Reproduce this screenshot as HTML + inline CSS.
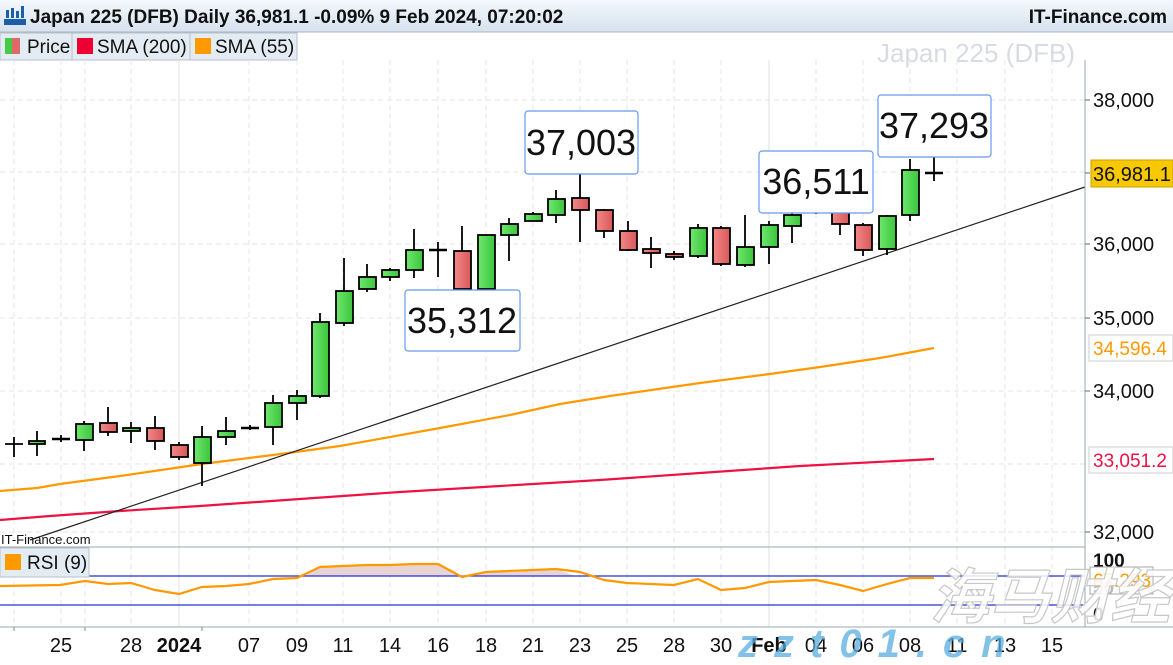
<!DOCTYPE html>
<html><head><meta charset="utf-8"><style>
body{margin:0;width:1173px;height:660px;overflow:hidden;background:#fff;font-family:"Liberation Sans",sans-serif}
</style></head><body>
<svg width="1173" height="660" xmlns="http://www.w3.org/2000/svg" font-family="Liberation Sans, sans-serif">
<defs>
<linearGradient id="hd" x1="0" y1="0" x2="0" y2="1"><stop offset="0" stop-color="#f4f8fc"/><stop offset="1" stop-color="#d6e2ee"/></linearGradient>
<linearGradient id="g" x1="0" x2="1"><stop offset="0" stop-color="#6ee86e"/><stop offset="1" stop-color="#3cc43c"/></linearGradient>
<linearGradient id="r" x1="0" x2="1"><stop offset="0" stop-color="#f48888"/><stop offset="1" stop-color="#d85858"/></linearGradient>
</defs>
<rect x="0" y="0" width="1173" height="32" fill="url(#hd)"/>
<line x1="0" y1="32" x2="1173" y2="32" stroke="#a8b4c0"/>
<g fill="#1a5fa8"><rect x="6" y="10" width="3" height="8"/><rect x="11" y="8" width="3" height="10"/><rect x="16" y="11" width="3" height="7"/><rect x="21" y="6" width="3" height="12"/></g>
<rect x="4" y="19" width="22" height="6" fill="#1a5fa8"/>
<text x="30" y="23" font-size="19" font-weight="bold" fill="#111">Japan 225 (DFB) Daily 36,981.1 -0.09% 9 Feb 2024, 07:20:02</text>
<text x="1167" y="23" font-size="19" font-weight="bold" fill="#111" text-anchor="end">IT-Finance.com</text>
<!-- legend -->
<rect x="0" y="33" width="297" height="27" fill="#e4ecf3" stroke="#b8c2cc"/>
<line x1="72" y1="33" x2="72" y2="60" stroke="#b8c2cc"/><line x1="190" y1="33" x2="190" y2="60" stroke="#b8c2cc"/>
<rect x="5" y="38" width="7" height="16" fill="#44cc44"/><rect x="12" y="38" width="8" height="16" fill="#e06868"/>
<text x="27" y="53" font-size="19" fill="#111">Price</text>
<rect x="77" y="38" width="16" height="16" fill="#ee0033"/><text x="97" y="53" font-size="19" fill="#111">SMA (200)</text>
<rect x="195" y="38" width="16" height="16" fill="#ff9900"/><text x="215" y="53" font-size="19" fill="#111">SMA (55)</text>
<text x="1075" y="62" font-size="26" fill="#d8dce2" text-anchor="end">Japan 225 (DFB)</text>
<!-- grid -->
<g stroke="#e6e6e6" stroke-dasharray="5,4">
<line x1="0" y1="100" x2="1085" y2="100"/><line x1="0" y1="172" x2="1085" y2="172"/><line x1="0" y1="244" x2="1085" y2="244"/><line x1="0" y1="318" x2="1085" y2="318"/><line x1="0" y1="391" x2="1085" y2="391"/><line x1="0" y1="464" x2="1085" y2="464"/><line x1="0" y1="532" x2="1085" y2="532"/>
<line x1="14" y1="60" x2="14" y2="627"/><line x1="61" y1="60" x2="61" y2="627"/><line x1="85" y1="60" x2="85" y2="627"/><line x1="131" y1="60" x2="131" y2="627"/><line x1="249" y1="60" x2="249" y2="627"/><line x1="297" y1="60" x2="297" y2="627"/><line x1="343" y1="60" x2="343" y2="627"/><line x1="390" y1="60" x2="390" y2="627"/><line x1="438" y1="60" x2="438" y2="627"/><line x1="486" y1="60" x2="486" y2="627"/><line x1="533" y1="60" x2="533" y2="627"/><line x1="580" y1="60" x2="580" y2="627"/><line x1="627" y1="60" x2="627" y2="627"/><line x1="674" y1="60" x2="674" y2="627"/><line x1="721" y1="60" x2="721" y2="627"/><line x1="816" y1="60" x2="816" y2="627"/><line x1="863" y1="60" x2="863" y2="627"/><line x1="910" y1="60" x2="910" y2="627"/><line x1="957" y1="60" x2="957" y2="627"/><line x1="1005" y1="60" x2="1005" y2="627"/><line x1="1052" y1="60" x2="1052" y2="627"/>
</g>
<g stroke="#e0e0e0"><line x1="179" y1="60" x2="179" y2="627"/><line x1="769" y1="60" x2="769" y2="627"/></g>
<!-- SMAs & trendline -->
<polyline fill="none" stroke="#ee1144" stroke-width="2.2" points="0,520 50,516 120,511 200,506 300,499 400,492 500,486 600,480 700,473 800,466 934,459"/>
<polyline fill="none" stroke="#ff9900" stroke-width="2.2" points="0,491 37,488 60,484 120,476 202,464 273,455 340,446 440,428 510,415 560,404 610,396 700,383 770,374 820,367 880,358 934,348"/>
<line x1="30" y1="540" x2="1085" y2="187" stroke="#222" stroke-width="1.2"/>
<!-- candles -->
<g stroke="#000" stroke-width="1.8">
<line x1="14" y1="437" x2="14" y2="457"/><line x1="5" y1="444" x2="23" y2="444"/>
<line x1="37" y1="431" x2="37" y2="456"/><rect x="29" y="441" width="16" height="3" fill="url(#g)"/>
<line x1="61" y1="435" x2="61" y2="442"/><line x1="52" y1="439" x2="70" y2="439" stroke-width="2.5"/>
<line x1="84" y1="421" x2="84" y2="451"/><rect x="76" y="424" width="17" height="16" fill="url(#g)"/>
<line x1="108" y1="407" x2="108" y2="436"/><rect x="100" y="423" width="17" height="9" fill="url(#r)"/>
<line x1="131" y1="422" x2="131" y2="443"/><rect x="123" y="428" width="17" height="3" fill="url(#g)"/>
<line x1="155" y1="416" x2="155" y2="450"/><rect x="147" y="428" width="17" height="13" fill="url(#r)"/>
<line x1="179" y1="442" x2="179" y2="460"/><rect x="171" y="445" width="17" height="12" fill="url(#r)"/>
<line x1="202" y1="426" x2="202" y2="486"/><rect x="194" y="437" width="17" height="26" fill="url(#g)"/>
<line x1="226" y1="417" x2="226" y2="445"/><rect x="218" y="431" width="17" height="6" fill="url(#g)"/>
<line x1="250" y1="425" x2="250" y2="430"/><line x1="241" y1="428" x2="259" y2="428" stroke-width="2.5"/>
<line x1="273" y1="395" x2="273" y2="445"/><rect x="265" y="403" width="17" height="24" fill="url(#g)"/>
<line x1="297" y1="390" x2="297" y2="420"/><rect x="289" y="396" width="17" height="7" fill="url(#g)"/>
<line x1="320" y1="313" x2="320" y2="398"/><rect x="312" y="322" width="17" height="74" fill="url(#g)"/>
<line x1="344" y1="258" x2="344" y2="326"/><rect x="336" y="291" width="17" height="32" fill="url(#g)"/>
<line x1="367" y1="264" x2="367" y2="292"/><rect x="359" y="277" width="17" height="12" fill="url(#g)"/>
<line x1="390" y1="268" x2="390" y2="281"/><rect x="382" y="270" width="17" height="7" fill="url(#g)"/>
<line x1="414" y1="229" x2="414" y2="278"/><rect x="406" y="250" width="17" height="20" fill="url(#g)"/>
<line x1="438" y1="242" x2="438" y2="277"/><line x1="429" y1="250" x2="447" y2="250" stroke-width="2.5"/>
<line x1="462" y1="226" x2="462" y2="296"/><rect x="454" y="251" width="17" height="38" fill="url(#r)"/>
<line x1="486" y1="235" x2="486" y2="292"/><rect x="478" y="235" width="17" height="54" fill="url(#g)"/>
<line x1="509" y1="218" x2="509" y2="261"/><rect x="501" y="224" width="17" height="11" fill="url(#g)"/>
<line x1="533" y1="212" x2="533" y2="221"/><rect x="525" y="214" width="17" height="7" fill="url(#g)"/>
<line x1="556" y1="190" x2="556" y2="223"/><rect x="548" y="199" width="17" height="16" fill="url(#g)"/>
<line x1="580" y1="171" x2="580" y2="242"/><rect x="572" y="198" width="17" height="12" fill="url(#r)"/>
<line x1="604" y1="209" x2="604" y2="238"/><rect x="596" y="210" width="17" height="21" fill="url(#r)"/>
<line x1="628" y1="221" x2="628" y2="251"/><rect x="620" y="231" width="17" height="19" fill="url(#r)"/>
<line x1="651" y1="237" x2="651" y2="268"/><rect x="643" y="249" width="17" height="4" fill="url(#r)"/>
<line x1="674" y1="251" x2="674" y2="260"/><rect x="666" y="254" width="17" height="3" fill="url(#r)"/>
<line x1="698" y1="224" x2="698" y2="258"/><rect x="690" y="228" width="17" height="28" fill="url(#g)"/>
<line x1="721" y1="226" x2="721" y2="266"/><rect x="713" y="228" width="17" height="36" fill="url(#r)"/>
<line x1="745" y1="215" x2="745" y2="267"/><rect x="737" y="247" width="17" height="18" fill="url(#g)"/>
<line x1="769" y1="221" x2="769" y2="264"/><rect x="761" y="225" width="17" height="22" fill="url(#g)"/>
<line x1="792" y1="211" x2="792" y2="243"/><rect x="784" y="215" width="17" height="11" fill="url(#g)"/>
<line x1="816" y1="207" x2="816" y2="214"/><rect x="808" y="208" width="17" height="2" fill="url(#g)"/>
<line x1="840" y1="209" x2="840" y2="235"/><rect x="832" y="210" width="17" height="14" fill="url(#r)"/>
<line x1="863" y1="223" x2="863" y2="256"/><rect x="855" y="225" width="17" height="25" fill="url(#r)"/>
<line x1="887" y1="215" x2="887" y2="255"/><rect x="879" y="216" width="17" height="33" fill="url(#g)"/>
<line x1="910" y1="159" x2="910" y2="221"/><rect x="902" y="170" width="17" height="45" fill="url(#g)"/>
<line x1="934" y1="150" x2="934" y2="181"/><line x1="925" y1="173" x2="943" y2="173" stroke-width="2.5"/>
</g>
<!-- annotations -->
<g fill="#fff" stroke="#6699ee" stroke-width="1.2">
<rect x="525" y="111" width="113" height="63" rx="3"/><rect x="405" y="290" width="115" height="61" rx="3"/><rect x="759" y="151" width="114" height="62" rx="3"/><rect x="878" y="95" width="113" height="62" rx="3"/>
</g>
<g font-size="36" fill="#111" text-anchor="middle">
<text x="581" y="155">37,003</text><text x="462" y="333">35,312</text><text x="816" y="194">36,511</text><text x="934" y="138">37,293</text>
</g>
<!-- right axis -->
<line x1="1085" y1="60" x2="1085" y2="627" stroke="#9aa8b4"/>
<g stroke="#666"><line x1="1085" y1="100" x2="1090" y2="100"/><line x1="1085" y1="244" x2="1090" y2="244"/><line x1="1085" y1="318" x2="1090" y2="318"/><line x1="1085" y1="391" x2="1090" y2="391"/><line x1="1085" y1="532" x2="1090" y2="532"/><line x1="1085" y1="173" x2="1090" y2="173"/></g>
<g font-size="20" fill="#111">
<text x="1093" y="107">38,000</text><text x="1093" y="251">36,000</text><text x="1093" y="325">35,000</text><text x="1093" y="398">34,000</text><text x="1093" y="539">32,000</text>
</g>
<rect x="1091" y="160" width="82" height="27" fill="#f8c800" stroke="#c8a000"/>
<text x="1093" y="181" font-size="20" fill="#111">36,981.1</text>
<rect x="1089" y="335" width="84" height="26" fill="#fff" stroke="#ccc"/>
<text x="1093" y="355" font-size="19" fill="#ff9900">34,596.4</text>
<rect x="1089" y="447" width="84" height="26" fill="#fff" stroke="#ccc"/>
<text x="1093" y="467" font-size="19" fill="#ee1144">33,051.2</text>
<text x="1" y="544" font-size="13" fill="#111">IT-Finance.com</text>
<!-- RSI panel -->
<line x1="0" y1="547" x2="1085" y2="547" stroke="#9aa8b4"/>
<line x1="0" y1="627" x2="1173" y2="627" stroke="#9aa8b4"/>
<polygon fill="#e8d4d4" points="305,576 320,567 343,566 367,565 390,565 414,564 438,564 458,576"/>
<polygon fill="#e8d4d4" points="470,576 486,572 509,571 533,570 556,569 575,576"/>
<line x1="0" y1="576" x2="1085" y2="576" stroke="#2233cc" stroke-width="1.3"/>
<line x1="0" y1="605" x2="1085" y2="605" stroke="#2233cc" stroke-width="1.3"/>
<polyline fill="none" stroke="#ff9900" stroke-width="2.2" points="0,586 60,585 85,581 108,584 131,583 155,590 179,594 202,587 226,586 249,584 273,579 297,578 320,567 343,566 367,565 390,565 414,564 438,564 462,577 486,572 509,571 533,570 556,569 580,572 604,580 627,583 651,584 674,585 698,579 721,590 745,588 769,582 792,581 816,580 840,585 863,591 887,584 910,578 934,578"/>
<rect x="0" y="548" width="89" height="29" fill="#e4ecf3" stroke="#b8c2cc"/>
<rect x="5" y="554" width="16" height="16" fill="#ff9900"/>
<text x="27" y="569" font-size="19" fill="#111">RSI (9)</text>
<g font-size="19" font-weight="bold" fill="#111"><text x="1093" y="567">100</text><text x="1093" y="594">50</text><text x="1093" y="621">0</text></g>
<rect x="1090" y="567" width="63" height="27" fill="#fff" fill-opacity="0.7" stroke="#aaa"/>
<text x="1093" y="587" font-size="19" fill="#ff9900">67.293</text>
<!-- bottom axis -->
<g stroke="#888"><line x1="14" y1="627" x2="14" y2="631"/><line x1="85" y1="627" x2="85" y2="631"/><line x1="202" y1="627" x2="202" y2="631"/></g>
<g font-size="20" fill="#111" text-anchor="middle">
<text x="61" y="652">25</text><text x="131" y="652">28</text><text x="179" y="652" font-weight="bold">2024</text><text x="249" y="652">07</text><text x="297" y="652">09</text><text x="343" y="652">11</text><text x="390" y="652">14</text><text x="438" y="652">16</text><text x="486" y="652">18</text><text x="533" y="652">21</text><text x="580" y="652">23</text><text x="627" y="652">25</text><text x="674" y="652">28</text><text x="721" y="652">30</text><text x="769" y="652" font-weight="bold">Feb</text><text x="816" y="652">04</text><text x="863" y="652">06</text><text x="910" y="652">08</text><text x="957" y="652">11</text><text x="1005" y="652">13</text><text x="1052" y="652">15</text>
</g>
<!-- watermark -->
<text x="930" y="618" font-size="60" font-style="italic" font-weight="bold" fill="#fff" fill-opacity="0.85" stroke="#c8c8c8" stroke-width="1.2" font-family="Liberation Sans, Noto Sans CJK SC, sans-serif">海马财经</text>
<text x="738" y="657" font-size="40" font-style="italic" font-weight="bold" fill="#5aaee0" fill-opacity="0.75" letter-spacing="16">zzt01.cn</text>
</svg>
</body></html>
